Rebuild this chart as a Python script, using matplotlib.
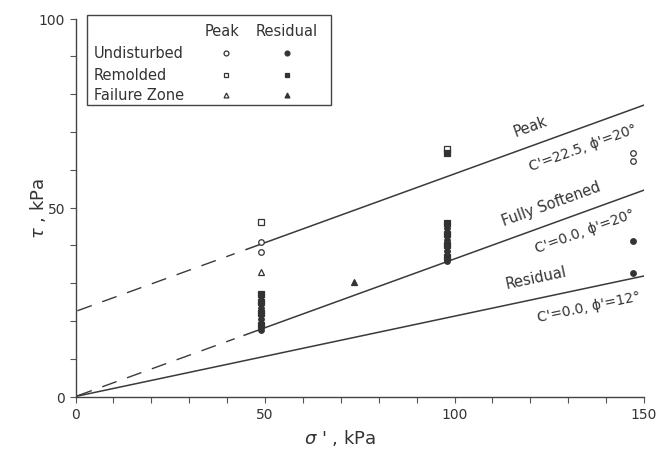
import numpy as np
import matplotlib
matplotlib.use("Agg")
import matplotlib.pyplot as plt
from matplotlib.patches import Rectangle
from matplotlib.lines import Line2D

# ---------------- data ----------------
und_peak_x = [49, 49, 147, 147]
und_peak_y = [40.9, 38.2, 64.5, 62.2]
rem_peak_x = [49, 98]
rem_peak_y = [46.1, 65.5]
fz_peak_x = [49]
fz_peak_y = [33.0]

und_res_x = [49, 49, 49, 49, 98, 98, 98, 98, 147, 147]
und_res_y = [17.5, 20.5, 23.5, 26.5, 35.8, 38.5, 41.5, 44.5, 41.2, 32.6]
rem_res_x = [49, 49, 49, 49, 98, 98, 98, 98, 98]
rem_res_y = [19.0, 22.0, 25.0, 27.0, 37.0, 40.0, 43.0, 46.0, 64.3]
fz_res_x = [73.5]
fz_res_y = [30.4]

# strength envelopes: cohesion (kPa), friction angle (deg)
env_names = ["Peak", "Fully Softened", "Residual"]
env_c = [22.5, 0.0, 0.0]
env_phi = [20, 20, 12]
env_solid_from = [45.0, 44.5, 0.0]
env_dash_to = [42.0, 42.0, None]
env_params = ["C'=22.5, ϕ'=20°", "C'=0.0, ϕ'=20°", "C'=0.0, ϕ'=12°"]
name_pos = [(120, 71.5), (125.5, 51.0), (121.5, 31.5)]
param_pos = [(134.0, 66.0), (134.5, 44.0), (135.5, 24.0)]

xticks = [0, 50, 100, 150]
yticks = [0, 50, 100]

# ---------------- figure ----------------
W, H = 658, 456
fig = plt.figure(figsize=(W / 100, H / 100), dpi=100)
ax = fig.add_axes([75.5 / W, 1 - 397.5 / H, (644 - 75.5) / W, (397.5 - 19.5) / H])
ax.set_xlim(0, 150)
ax.set_ylim(0, 100)
for s in ["top", "right"]:
    ax.spines[s].set_visible(False)
for s in ["left", "bottom"]:
    ax.spines[s].set_color("#444444")
    ax.spines[s].set_linewidth(1.0)

ax.set_xticks(xticks)
ax.set_yticks(yticks)
ax.set_xticks(np.arange(0, 151, 10), minor=True)
ax.set_yticks(np.arange(0, 101, 10), minor=True)
ax.tick_params(which="both", direction="out", length=4, width=0.8, color="#555555",
               labelsize=10, labelcolor="#333333")

lc = "#3a3a3a"
for c, phi, s0, d1 in zip(env_c, env_phi, env_solid_from, env_dash_to):
    t = np.tan(np.radians(phi))
    xs = np.array([s0, 150.0])
    ax.plot(xs, c + t * xs, color=lc, lw=1.1)
    if d1 is not None:
        xd = np.array([0.5, d1])
        ax.plot(xd, c + t * xd, color=lc, lw=1.0, dashes=(11, 8))

for (nx, ny), (px, py), name, par, phi in zip(name_pos, param_pos, env_names, env_params, env_phi):
    ax.text(nx, ny, name, rotation=phi, transform_rotates_text=True,
            rotation_mode="anchor", ha="center", va="center", fontsize=10.5, color="#333333")
    ax.text(px, py, par, rotation=phi, transform_rotates_text=True,
            rotation_mode="anchor", ha="center", va="center", fontsize=10, color="#333333")

mc = "#333333"
ms = 4
ax.plot(und_peak_x, und_peak_y, "o", ms=ms, mfc="white", mec=mc, mew=0.9, clip_on=False)
ax.plot(rem_peak_x, rem_peak_y, "s", ms=ms, mfc="white", mec=mc, mew=0.9, clip_on=False)
ax.plot(fz_peak_x, fz_peak_y, "^", ms=ms, mfc="white", mec=mc, mew=0.9, clip_on=False)
ax.plot(und_res_x, und_res_y, "o", ms=ms, mfc=mc, mec=mc, mew=0.9, clip_on=False)
ax.plot(rem_res_x, rem_res_y, "s", ms=ms, mfc=mc, mec=mc, mew=0.9, clip_on=False)
ax.plot(fz_res_x, fz_res_y, "^", ms=ms + 1, mfc=mc, mec=mc, mew=0.9, clip_on=False)

ax.set_xlabel(r"$\sigma$ ' , kPa", fontsize=13, color="#333333")
ax.set_ylabel(r"$\tau$ , kPa", fontsize=13, color="#333333")
ax.xaxis.set_label_coords(0.465, -0.08)
ax.yaxis.set_label_coords(-0.048, 0.5)

# ---------------- legend (manual) ----------------
def fx(px):
    return px / W

def fy(py):
    return 1 - py / H

fig.patches.append(Rectangle((fx(87), fy(106)), fx(331) - fx(87), fy(16) - fy(106),
                             transform=fig.transFigure, fill=False, ec="#444444", lw=1.0))
tc = "#333333"
fig.text(fx(205), fy(31), "Peak", fontsize=10.5, va="center", ha="left", color=tc)
fig.text(fx(256), fy(31), "Residual", fontsize=10.5, va="center", ha="left", color=tc)
rows = ["Undisturbed", "Remolded", "Failure Zone"]
row_y = [54, 75.5, 96]
row_m = ["o", "s", "^"]
for lab, yy, m in zip(rows, row_y, row_m):
    fig.text(fx(94), fy(yy), lab, fontsize=10.5, va="center", ha="left", color=tc)
    fig.add_artist(Line2D([fx(226)], [fy(yy)], marker=m, ms=3.5, mfc="white", mec=mc,
                          mew=0.9, transform=fig.transFigure))
    fig.add_artist(Line2D([fx(287)], [fy(yy)], marker=m, ms=3.5, mfc=mc, mec=mc,
                          mew=0.9, transform=fig.transFigure))

fig.savefig("out.png", dpi=100)
